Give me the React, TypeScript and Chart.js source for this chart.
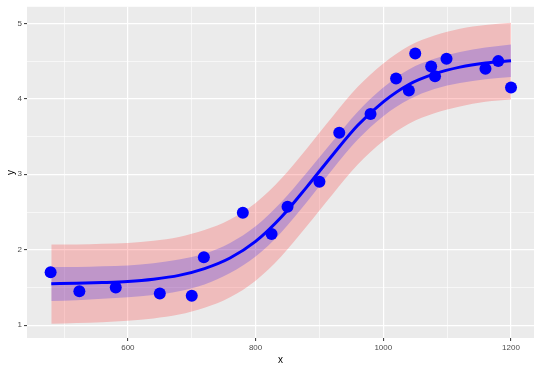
import React, { useEffect, useRef } from "react";
import { Chart, registerables } from "chart.js";

Chart.register(...registerables);

// Observed points
const obsX = [479, 524, 581, 650, 700, 719, 780, 825, 850, 900, 931, 980, 1020, 1040, 1050, 1075, 1081, 1099, 1160, 1180, 1200];
const obsY = [1.70, 1.45, 1.50, 1.42, 1.39, 1.90, 2.49, 2.21, 2.57, 2.90, 3.55, 3.80, 4.27, 4.11, 4.60, 4.43, 4.30, 4.53, 4.40, 4.50, 4.15];

// Fitted curve and bands
const fitX = [480, 520, 560, 600, 640, 680, 720, 760, 800, 840, 880, 920, 960, 1000, 1040, 1080, 1120, 1160, 1200];
const fitY = [1.55, 1.555, 1.565, 1.58, 1.61, 1.66, 1.75, 1.89, 2.11, 2.43, 2.83, 3.25, 3.65, 3.96, 4.19, 4.33, 4.42, 4.475, 4.505];
const ciUpper = [1.77, 1.77, 1.78, 1.79, 1.82, 1.87, 1.95, 2.09, 2.31, 2.63, 3.02, 3.43, 3.83, 4.15, 4.39, 4.53, 4.62, 4.68, 4.72];
const ciLower = [1.32, 1.33, 1.35, 1.37, 1.40, 1.45, 1.54, 1.69, 1.91, 2.23, 2.63, 3.06, 3.46, 3.77, 3.99, 4.13, 4.21, 4.26, 4.29];
const piUpper = [2.07, 2.07, 2.08, 2.09, 2.12, 2.17, 2.26, 2.40, 2.62, 2.94, 3.34, 3.76, 4.16, 4.47, 4.70, 4.84, 4.93, 4.98, 5.01];
const piLower = [1.02, 1.03, 1.04, 1.06, 1.09, 1.14, 1.23, 1.37, 1.59, 1.91, 2.31, 2.73, 3.13, 3.44, 3.67, 3.81, 3.90, 3.96, 3.99];

const xMin = 442;
const xMax = 1236;
const yMin = 0.83;
const yMax = 5.22;
const xGridValues = [500, 600, 700, 800, 900, 1000, 1100, 1200];
const xTickLabels = [600, 800, 1000, 1200];
const yGridValues = [1, 1.5, 2, 2.5, 3, 3.5, 4, 4.5, 5];
const yTickLabels = [1, 2, 3, 4, 5];

const FONT = "'Liberation Sans', Arial, sans-serif";

const toPts = (xs: number[], ys: number[]) => xs.map((x, i) => ({ x, y: ys[i] }));

const panelBg = {
  id: "panelBg",
  beforeDraw(chart: any) {
    const { ctx, chartArea } = chart;
    ctx.save();
    ctx.fillStyle = "#EBEBEB";
    ctx.fillRect(chartArea.left, chartArea.top, chartArea.right - chartArea.left, chartArea.bottom - chartArea.top);
    ctx.restore();
  },
};

export default function App() {
  const ref = useRef<HTMLCanvasElement | null>(null);

  useEffect(() => {
    if (!ref.current) return;
    const bandLine = (data: number[], fill: any, color: string, order: number) => ({
      type: "line" as const,
      data: toPts(fitX, data),
      borderWidth: 0,
      borderColor: "rgba(0,0,0,0)",
      pointRadius: 0,
      backgroundColor: color,
      fill,
      cubicInterpolationMode: "monotone" as const,
      order,
    });
    const isMajor = (list: number[], v: any) => list.some((m) => Math.abs(m - Number(v)) < 1e-6);
    const chart = new Chart(ref.current, {
      type: "scatter",
      data: {
        datasets: [
          {
            type: "scatter",
            data: toPts(obsX, obsY),
            backgroundColor: "#0000FF",
            borderColor: "#0000FF",
            pointRadius: 6,
            borderWidth: 0,
            order: 0,
          } as any,
          {
            type: "line",
            data: toPts(fitX, fitY),
            borderColor: "#0000FF",
            borderWidth: 3,
            pointRadius: 0,
            fill: false,
            cubicInterpolationMode: "monotone",
            order: 1,
          } as any,
          bandLine(ciUpper, "+1", "rgba(0,0,255,0.2)", 2),
          bandLine(ciLower, false, "rgba(0,0,255,0.2)", 2),
          bandLine(piUpper, "+1", "rgba(255,0,0,0.2)", 3),
          bandLine(piLower, false, "rgba(255,0,0,0.2)", 3),
        ],
      },
      options: {
        responsive: false,
        animation: false,
        layout: { padding: { left: 0, right: 5, top: 4, bottom: 0 } },
        plugins: { legend: { display: false }, tooltip: { enabled: false } },
        scales: {
          x: {
            type: "linear",
            min: xMin,
            max: xMax,
            afterBuildTicks: (s: any) => { s.ticks = xGridValues.map((value) => ({ value })); },
            afterFit: (s: any) => { s.height = 28; },
            border: { display: false },
            grid: {
              color: "#FFFFFF",
              lineWidth: (c: any) => (isMajor(xTickLabels, c.tick?.value) ? 1.2 : 0.6),
              tickColor: (c: any) => (isMajor(xTickLabels, c.tick?.value) ? "#333333" : "rgba(0,0,0,0)"),
              tickLength: 3,
              tickWidth: 1,
            },
            ticks: {
              maxRotation: 0,
              minRotation: 0,
              autoSkip: false,
              padding: 2,
              color: "#4D4D4D",
              font: { family: FONT, size: 8 },
              callback: (v: any) => (isMajor(xTickLabels, v) ? String(v) : ""),
            },
            title: { display: true, text: "x", color: "#000000", font: { family: FONT, size: 10 }, padding: { top: 0, bottom: 0 } },
          },
          y: {
            type: "linear",
            min: yMin,
            max: yMax,
            afterBuildTicks: (s: any) => { s.ticks = yGridValues.map((value) => ({ value })); },
            afterFit: (s: any) => { s.width = 27; },
            border: { display: false },
            grid: {
              color: "#FFFFFF",
              lineWidth: (c: any) => (isMajor(yTickLabels, c.tick?.value) ? 1.2 : 0.6),
              tickColor: (c: any) => (isMajor(yTickLabels, c.tick?.value) ? "#333333" : "rgba(0,0,0,0)"),
              tickLength: 3,
              tickWidth: 1,
            },
            ticks: {
              autoSkip: false,
              padding: 2,
              color: "#4D4D4D",
              font: { family: FONT, size: 8 },
              callback: (v: any) => (isMajor(yTickLabels, v) ? String(v) : ""),
            },
            title: { display: true, text: "y", color: "#000000", font: { family: FONT, size: 10 }, padding: { top: 5, bottom: 0 } },
          },
        },
      },
      plugins: [panelBg],
    });
    return () => chart.destroy();
  }, []);

  return (
    <div style={{ position: "fixed", left: 0, top: 0, width: 540, height: 366, background: "#FFFFFF" }}>
      <canvas ref={ref} width={540} height={366} style={{ width: 540, height: 366, display: "block" }} />
    </div>
  );
}
